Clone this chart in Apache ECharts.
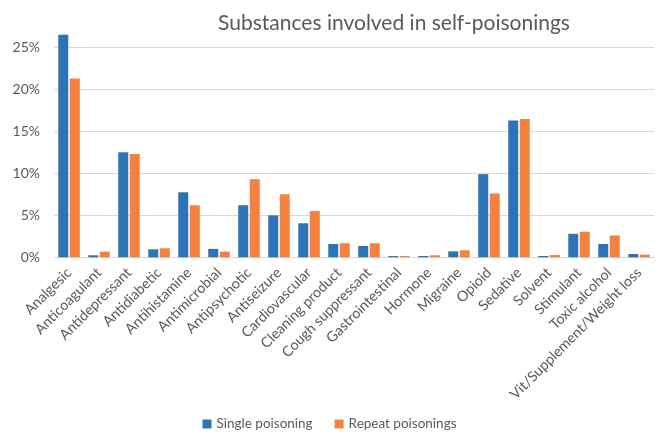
<!DOCTYPE html>
<html>
<head>
<meta charset="utf-8">
<script src="https://cdn.jsdelivr.net/npm/echarts@6/dist/echarts.min.js"></script>
<style>
  html, body { margin: 0; padding: 0; background: #fff; }
  #chart { width: 659px; height: 435px; }
</style>
</head>
<body>
<div id="chart"></div>
<script>
const categories = ['Analgesic', 'Anticoagulant', 'Antidepressant', 'Antidiabetic', 'Antihistamine',
  'Antimicrobial', 'Antipsychotic', 'Antiseizure', 'Cardiovascular', 'Cleaning product',
  'Cough suppressant', 'Gastrointestinal', 'Hormone', 'Migraine', 'Opioid', 'Sedative',
  'Solvent', 'Stimulant', 'Toxic alcohol', 'Vit/Supplement/Weight loss']

// percent of poisonings
const single = [26.5, 0.24, 12.5, 0.95, 7.74, 1.0, 6.2, 5.0, 4.05, 1.58,
  1.35, 0.15, 0.15, 0.71, 9.9, 16.3, 0.15, 2.8, 1.58, 0.39]
const repeat = [21.3, 0.67, 12.3, 1.07, 6.2, 0.67, 9.3, 7.5, 5.5, 1.67,
  1.67, 0.15, 0.24, 0.83, 7.6, 16.45, 0.27, 3.05, 2.6, 0.31]

const yTicks = [0, 5, 10, 15, 20, 25]

const chart = echarts.init(document.getElementById('chart'))
const font = 'Lato'
const grey = '#595959'

chart.setOption({
  backgroundColor: '#fff',
  animation: false,
  textStyle: { fontFamily: font },
  title: {
    text: 'Substances involved in self-poisonings',
    left: 389,
    textAlign: 'center',
    top: 8,
    textStyle: { fontFamily: font, fontSize: 21, fontWeight: 'normal', color: grey }
  },
  legend: {
    data: ['Single poisoning', 'Repeat poisonings'],
    top: 417,
    left: 'center',
    padding: 0,
    itemWidth: 9,
    itemHeight: 9,
    itemGap: 22,
    icon: 'rect',
    textStyle: { fontFamily: font, fontSize: 13.5, color: grey }
  },
  grid: { left: 54, right: 5, top: 30.5, bottom: 177.7 },
  xAxis: {
    type: 'category',
    data: categories,
    axisTick: { show: false },
    axisLine: { lineStyle: { color: '#d9d9d9', width: 1 } },
    axisLabel: {
      rotate: 45,
      interval: 0,
      margin: 13,
      fontFamily: font,
      fontSize: 14.3,
      color: grey
    }
  },
  yAxis: {
    type: 'value',
    min: 0,
    max: 27,
    interval: 5,
    axisLine: { show: false },
    axisTick: { show: false },
    axisLabel: {
      margin: 14,
      fontFamily: font,
      fontSize: 14,
      color: grey,
      formatter: v => (yTicks.includes(v) ? v + '%' : '')
    },
    splitLine: { showMaxLine: false, lineStyle: { color: '#d9d9d9', width: 1 } }
  },
  series: [
    {
      name: 'Single poisoning',
      type: 'bar',
      data: single,
      barWidth: 10,
      barGap: '15%',
      itemStyle: { color: '#2e74b5' }
    },
    {
      name: 'Repeat poisonings',
      type: 'bar',
      data: repeat,
      barWidth: 10,
      itemStyle: { color: '#f4813f' }
    }
  ]
})
</script>
</body>
</html>
